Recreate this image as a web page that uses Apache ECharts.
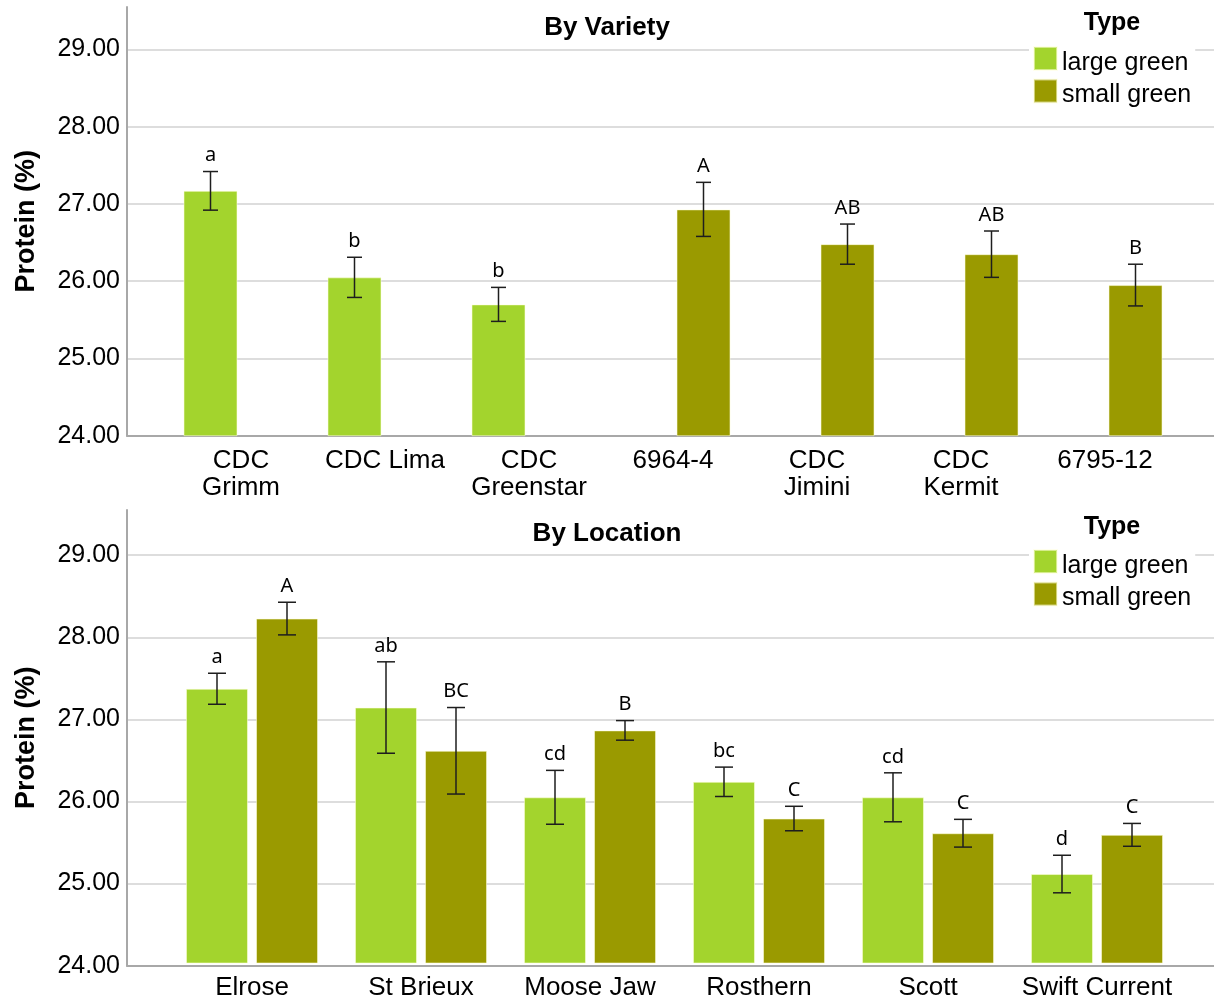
<!DOCTYPE html>
<html>
<head>
<meta charset="utf-8">
<script src="https://cdn.jsdelivr.net/npm/echarts@6/dist/echarts.min.js"></script>
<style>
  html, body { margin: 0; padding: 0; background: #ffffff; }
  #chart { width: 1214px; height: 1001px; }
</style>
</head>
<body>
<div id="chart"></div>
<script>
// Mean protein content (%) of large and small green lentils with error bars
// and mean-separation letters, by variety and by location.

const varietyNames = ['CDC\nGrimm', 'CDC Lima', 'CDC\nGreenstar', '6964-4', 'CDC\nJimini', 'CDC\nKermit', '6795-12'];
const varietyLarge = [27.17, 26.05, 25.70, null, null, null, null];
const varietyLargeErr = [0.25, 0.26, 0.22, null, null, null, null];
const varietyLargeLetters = ['a', 'b', 'b', '', '', '', ''];
const varietySmall = [null, null, null, 26.93, 26.48, 26.35, 25.95];
const varietySmallErr = [null, null, null, 0.35, 0.26, 0.30, 0.27];
const varietySmallLetters = ['', '', '', 'A', 'AB', 'AB', 'B'];

const locationNames = ['Elrose', 'St Brieux', 'Moose Jaw', 'Rosthern', 'Scott', 'Swift Current'];
const locationLarge = [27.36, 27.13, 26.03, 26.22, 26.03, 25.09];
const locationLargeErr = [0.19, 0.56, 0.33, 0.18, 0.30, 0.23];
const locationLargeLetters = ['a', 'ab', 'cd', 'bc', 'cd', 'd'];
const locationSmall = [28.22, 26.60, 26.85, 25.77, 25.59, 25.57];
const locationSmallErr = [0.20, 0.53, 0.12, 0.15, 0.17, 0.14];
const locationSmallLetters = ['A', 'BC', 'B', 'C', 'C', 'C'];

const typeNames = ['large green', 'small green'];
const yMin = 24;
const yMax = 29.55;
const yStep = 1;

const FONT = '"Liberation Sans", Arial, sans-serif';
const LETTER_FONT = '"Noto Sans", sans-serif';
const LARGE_COLOR = '#a3d42d';
const SMALL_COLOR = '#9a9a00';
const AXIS_COLOR = '#a8a8a8';
const GRID_COLOR = '#d2d2d2';

// Outer frame: y axis with ticks/grid lines and the baseline across the full width
function frameX(gridIndex) {
  return {
    type: 'value', gridIndex, min: 0, max: 1,
    axisLine: { show: true, lineStyle: { color: AXIS_COLOR, width: 2 } },
    axisTick: { show: false }, axisLabel: { show: false }, splitLine: { show: false }
  };
}
function frameY(gridIndex) {
  return {
    type: 'value', gridIndex, min: yMin, max: yMax, interval: yStep,
    name: 'Protein (%)', nameLocation: 'middle', nameGap: 87, nameRotate: 90,
    nameTextStyle: { fontFamily: FONT, fontWeight: 'bold', fontSize: 27, color: '#000' },
    axisLine: { show: true, lineStyle: { color: AXIS_COLOR, width: 2 } },
    axisTick: { show: false },
    axisLabel: {
      fontFamily: FONT, fontSize: 25, color: '#000', margin: 7,
      formatter: v => (Number.isInteger(v) ? v.toFixed(2) : '')
    },
    splitLine: { show: true, showMinLine: false, showMaxLine: false, lineStyle: { color: GRID_COLOR, width: 1.5 } }
  };
}
// Inner plot area that holds the bar bands
function barX(gridIndex, names, margin) {
  return {
    type: 'category', gridIndex, data: names,
    axisLine: { show: false }, axisTick: { show: false },
    axisLabel: { fontFamily: FONT, fontSize: 26, lineHeight: 27, color: '#000', margin, interval: 0 }
  };
}
function barY(gridIndex) {
  return { type: 'value', gridIndex, min: yMin, max: yMax, show: false };
}

function barSeries(name, axis, values, color, width) {
  return {
    type: 'bar', name, xAxisIndex: axis, yAxisIndex: axis, data: values,
    barWidth: width, barGap: '13%',
    itemStyle: { color, borderColor: 'rgba(255,255,220,0.55)', borderWidth: 1 },
    emphasis: { disabled: true }
  };
}

// Error bars plus the letter above each one, placed on the matching bar slot
function errorSeries(axis, means, errs, letters, side, barW, gap, cap) {
  const data = [];
  means.forEach((m, i) => { if (m != null) data.push([i, m, errs[i]]); });
  return {
    type: 'custom', xAxisIndex: axis, yAxisIndex: axis, z: 5, silent: true,
    data, encode: { x: 0, y: 1 },
    renderItem(params, api) {
      const i = api.value(0);
      const mean = api.value(1);
      const half = api.value(2);
      const c = api.coord([i, mean]);
      const x = c[0] + side * (barW + gap) / 2;
      const yTop = api.coord([i, mean + half])[1];
      const yBot = api.coord([i, mean - half])[1];
      const ls = { stroke: '#1e1e1e', lineWidth: 1.5 };
      return {
        type: 'group',
        children: [
          { type: 'line', shape: { x1: x, y1: yTop, x2: x, y2: yBot }, style: ls },
          { type: 'line', shape: { x1: x - cap, y1: yTop, x2: x + cap, y2: yTop }, style: ls },
          { type: 'line', shape: { x1: x - cap, y1: yBot, x2: x + cap, y2: yBot }, style: ls },
          {
            type: 'text', x, y: yTop - 6,
            style: {
              text: letters[i], fill: '#000', fontFamily: LETTER_FONT, fontSize: 20,
              align: 'center', verticalAlign: 'bottom', textAlign: 'center', textVerticalAlign: 'bottom'
            }
          }
        ]
      };
    }
  };
}

function legendAt(top) {
  return {
    data: typeNames, orient: 'vertical', left: 1029, top, padding: 4,
    itemGap: 3, itemWidth: 23, itemHeight: 23, icon: 'rect',
    backgroundColor: '#ffffff', selectedMode: false,
    formatter: '{t|{name}}',
    textStyle: {
      fontFamily: FONT, fontSize: 25, color: '#000',
      rich: { t: { fontFamily: FONT, fontSize: 25, color: '#000', padding: [9, 0, 0, 0] } }
    }
  };
}

function heading(text, x, y) {
  return {
    type: 'text', x, y, z: 10,
    style: {
      text, fill: '#000', font: 'bold 26px ' + FONT,
      align: 'center', verticalAlign: 'middle', textAlign: 'center', textVerticalAlign: 'middle'
    }
  };
}
function legendTitle(y) {
  return {
    type: 'text', x: 1112, y, z: 10,
    style: {
      text: 'Type', fill: '#000', font: 'bold 25px ' + FONT,
      align: 'center', verticalAlign: 'middle', textAlign: 'center', textVerticalAlign: 'middle'
    }
  };
}

const option = {
  backgroundColor: '#ffffff',
  animation: false,
  grid: [
    { left: 127, right: 0, top: 7, bottom: 565.3 },
    { left: 169, right: 37, top: 7, bottom: 565.3 },
    { left: 127, right: 0, top: 510, bottom: 35.3 },
    { left: 167.5, right: 32.5, top: 510, bottom: 35.3 }
  ],
  xAxis: [frameX(0), barX(1, varietyNames, 12), frameX(2), barX(3, locationNames, 11)],
  yAxis: [frameY(0), barY(1), frameY(2), barY(3)],
  legend: [legendAt(42), legendAt(545)],
  graphic: [
    heading('By Variety', 607, 28),
    heading('By Location', 607, 534),
    legendTitle(23),
    legendTitle(527)
  ],
  series: [
    barSeries('large green', 1, varietyLarge, LARGE_COLOR, 54),
    barSeries('small green', 1, varietySmall, SMALL_COLOR, 54),
    errorSeries(1, varietyLarge, varietyLargeErr, varietyLargeLetters, -1, 54, 7, 7.5),
    errorSeries(1, varietySmall, varietySmallErr, varietySmallLetters, 1, 54, 7, 7.5),
    barSeries('large green', 3, locationLarge, LARGE_COLOR, 62),
    barSeries('small green', 3, locationSmall, SMALL_COLOR, 62),
    errorSeries(3, locationLarge, locationLargeErr, locationLargeLetters, -1, 62, 8, 9),
    errorSeries(3, locationSmall, locationSmallErr, locationSmallLetters, 1, 62, 8, 9)
  ]
};

const chart = echarts.init(document.getElementById('chart'), null, { renderer: 'canvas' });
chart.setOption(option);
</script>
</body>
</html>
